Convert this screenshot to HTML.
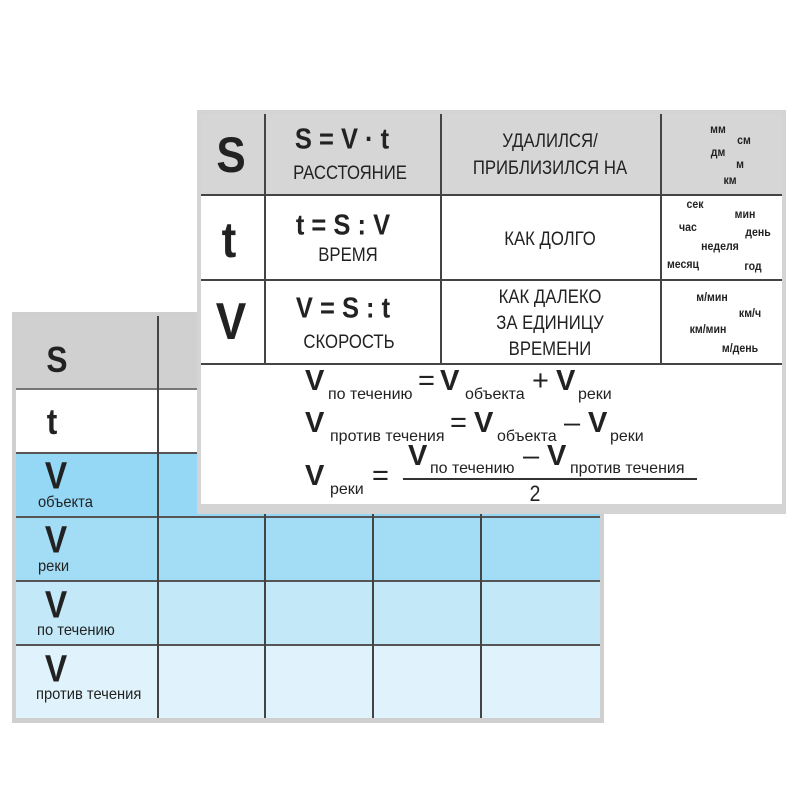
<!DOCTYPE html>
<html><head><meta charset="utf-8"><style>
body{margin:0;width:800px;height:800px;background:#fff;position:relative;overflow:hidden;font-family:"Liberation Sans","DejaVu Sans",sans-serif;color:#222}
.a{position:absolute}
.c{position:absolute;transform:translate(-50%,-50%) scaleX(.88);white-space:nowrap}
.l{position:absolute;white-space:nowrap}
.b{font-weight:bold}
.hl{position:absolute;height:2px;background:#444}
.vl{position:absolute;width:1.5px;background:#444}
.u{font-size:12px;font-weight:bold}
.f{font-size:29px;font-weight:bold}
.s{font-size:16px}
.m{font-size:19px}
.bl{position:absolute;white-space:nowrap;font-size:16px;transform:scaleX(.92);transform-origin:left}
</style></head><body>
<!-- back table -->
<div class="a" style="left:12px;top:312px;width:592px;height:411px;background:#cfcfcf"></div>
<div class="a" style="left:16px;top:316px;width:584px;height:73px;background:#d0d0d0"></div>
<div class="a" style="left:16px;top:389px;width:584px;height:64px;background:#fff"></div>
<div class="a" style="left:16px;top:453px;width:584px;height:64px;background:#94d8f5"></div>
<div class="a" style="left:16px;top:517px;width:584px;height:64px;background:#a3dcf5"></div>
<div class="a" style="left:16px;top:581px;width:584px;height:64px;background:#c3e8f8"></div>
<div class="a" style="left:16px;top:645px;width:584px;height:73px;background:#e0f3fc"></div>
<div class="hl" style="left:16px;top:388px;width:584px;height:1.5px;background:#777"></div>
<div class="hl" style="left:16px;top:452px;width:584px;height:1.5px;background:#555"></div>
<div class="hl" style="left:16px;top:516px;width:584px;height:1.5px;background:#555"></div>
<div class="hl" style="left:16px;top:580px;width:584px;height:1.5px;background:#555"></div>
<div class="hl" style="left:16px;top:644px;width:584px;height:1.5px;background:#555"></div>
<div class="vl" style="left:157px;top:316px;height:402px"></div>
<div class="vl" style="left:264px;top:316px;height:402px"></div>
<div class="vl" style="left:372px;top:316px;height:402px"></div>
<div class="vl" style="left:480px;top:316px;height:402px"></div>
<div class="c b" style="left:57px;top:360px;font-size:36px">S</div>
<div class="c b" style="left:52px;top:422px;font-size:36px">t</div>
<div class="c b" style="left:56px;top:477px;font-size:38px">V</div>
<div class="bl" style="left:38px;top:494px">объекта</div>
<div class="c b" style="left:56px;top:541px;font-size:38px">V</div>
<div class="bl" style="left:38px;top:558px">реки</div>
<div class="c b" style="left:56px;top:606px;font-size:38px">V</div>
<div class="bl" style="left:37px;top:622px">по течению</div>
<div class="c b" style="left:56px;top:670px;font-size:38px">V</div>
<div class="bl" style="left:36px;top:686px">против течения</div>
<!-- front card -->
<div class="a" style="left:197px;top:110px;width:589px;height:404px;background:#d4d4d4"></div>
<div class="a" style="left:201px;top:114px;width:581px;height:80px;background:#d6d6d6"></div>
<div class="a" style="left:201px;top:195px;width:581px;height:309px;background:#fff"></div>
<div class="hl" style="left:201px;top:194px;width:581px"></div>
<div class="hl" style="left:201px;top:279px;width:581px"></div>
<div class="hl" style="left:201px;top:363px;width:581px"></div>
<div class="vl" style="left:264px;top:114px;height:250px"></div>
<div class="vl" style="left:440px;top:114px;height:250px"></div>
<div class="vl" style="left:660px;top:114px;height:250px"></div>
<div class="c b" style="left:231px;top:155px;font-size:50px">S</div>
<div class="c b" style="left:229px;top:240px;font-size:50px">t</div>
<div class="c b" style="left:231px;top:322px;font-size:52px">V</div>
<div class="c f" style="left:342px;top:140px">S = V · t</div>
<div class="c m" style="left:350px;top:174px">РАССТОЯНИЕ</div>
<div class="c f" style="left:343px;top:226px">t = S : V</div>
<div class="c m" style="left:348px;top:256px">ВРЕМЯ</div>
<div class="c f" style="left:343px;top:309px">V = S : t</div>
<div class="c m" style="left:349px;top:343px">СКОРОСТЬ</div>
<div class="c m" style="left:550px;top:142px">УДАЛИЛСЯ/</div>
<div class="c m" style="left:550px;top:169px">ПРИБЛИЗИЛСЯ НА</div>
<div class="c m" style="left:550px;top:240px">КАК ДОЛГО</div>
<div class="c m" style="left:550px;top:298px">КАК ДАЛЕКО</div>
<div class="c m" style="left:550px;top:324px">ЗА ЕДИНИЦУ</div>
<div class="c m" style="left:550px;top:350px">ВРЕМЕНИ</div>
<div class="c u" style="left:718px;top:129px">мм</div>
<div class="c u" style="left:744px;top:140px">см</div>
<div class="c u" style="left:718px;top:152px">дм</div>
<div class="c u" style="left:740px;top:164px">м</div>
<div class="c u" style="left:730px;top:180px">км</div>
<div class="c u" style="left:695px;top:204px">сек</div>
<div class="c u" style="left:745px;top:214px">мин</div>
<div class="c u" style="left:688px;top:227px">час</div>
<div class="c u" style="left:720px;top:246px">неделя</div>
<div class="c u" style="left:758px;top:232px">день</div>
<div class="c u" style="left:683px;top:264px">месяц</div>
<div class="c u" style="left:753px;top:266px">год</div>
<div class="c u" style="left:712px;top:297px">м/мин</div>
<div class="c u" style="left:750px;top:313px">км/ч</div>
<div class="c u" style="left:708px;top:329px">км/мин</div>
<div class="c u" style="left:740px;top:348px">м/день</div>
<!-- formulas -->
<div class="l f" style="left:305px;top:365px">V</div>
<div class="l s" style="left:328px;top:386px">по течению</div>
<div class="l f" style="left:418px;top:365px;font-weight:normal">=</div>
<div class="l f" style="left:440px;top:365px">V</div>
<div class="l s" style="left:465px;top:386px">объекта</div>
<div class="l f" style="left:532px;top:365px;font-weight:normal">+</div>
<div class="l f" style="left:556px;top:365px">V</div>
<div class="l s" style="left:578px;top:386px">реки</div>
<div class="l f" style="left:305px;top:407px">V</div>
<div class="l s" style="left:330px;top:428px">против течения</div>
<div class="l f" style="left:450px;top:407px;font-weight:normal">=</div>
<div class="l f" style="left:474px;top:407px">V</div>
<div class="l s" style="left:497px;top:428px">объекта</div>
<div class="l f" style="left:564px;top:407px;font-weight:normal">–</div>
<div class="l f" style="left:588px;top:407px">V</div>
<div class="l s" style="left:610px;top:428px">реки</div>
<div class="l f" style="left:305px;top:460px">V</div>
<div class="l s" style="left:330px;top:481px">реки</div>
<div class="l f" style="left:372px;top:460px;font-weight:normal">=</div>
<div class="l f" style="left:408px;top:440px">V</div>
<div class="l s" style="left:430px;top:460px">по течению</div>
<div class="l f" style="left:523px;top:440px;font-weight:normal">–</div>
<div class="l f" style="left:547px;top:440px">V</div>
<div class="l s" style="left:570px;top:460px">против течения</div>
<div class="a" style="left:403px;top:478px;width:294px;height:1.5px;background:#333"></div>
<div class="c" style="left:535px;top:494px;font-size:22px">2</div>
</body></html>
